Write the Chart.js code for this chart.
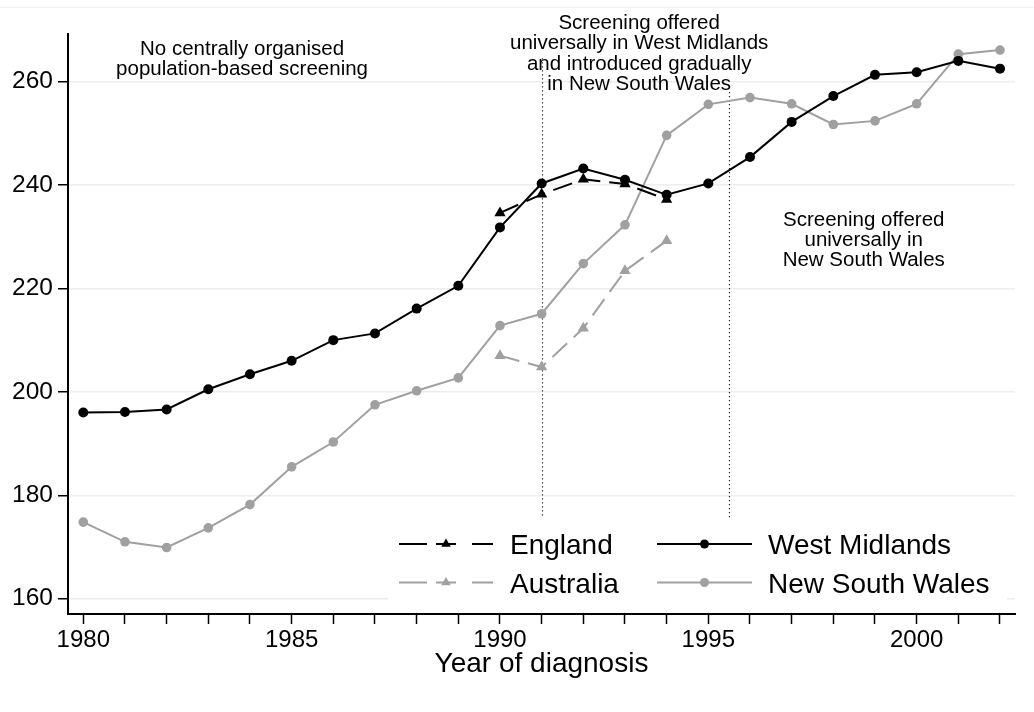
<!DOCTYPE html>
<html><head><meta charset="utf-8">
<script src="https://cdn.jsdelivr.net/npm/chart.js@4/dist/chart.umd.min.js"></script>
<style>html,body{margin:0;padding:0;background:#fff}#wrap{width:1034px;height:712px}</style>
</head><body><div id="wrap"><canvas id="c" width="1034" height="712"></canvas></div>
<script>
// ---- data ----
const years = [1980,1981,1982,1983,1984,1985,1986,1987,1988,1989,1990,1991,1992,1993,1994,1995,1996,1997,1998,1999,2000,2001,2002];
const westMidlands = [196.0,196.1,196.6,200.5,203.4,206.0,210.0,211.3,216.1,220.5,231.8,240.3,243.2,241.0,238.1,240.3,245.4,252.2,257.2,261.3,261.8,264.0,262.5];
const newSouthWales = [174.8,171.0,169.9,173.7,178.2,185.5,190.3,197.5,200.2,202.7,212.8,215.1,224.8,232.3,249.6,255.6,256.9,255.7,251.7,252.4,255.7,265.3,266.1];
const england = [null,null,null,null,null,null,null,null,null,null,234.6,238.2,241.1,240.2,237.2,null,null,null,null,null,null,null,null];
const australia = [null,null,null,null,null,null,null,null,null,null,207.0,204.8,212.3,223.4,229.2,null,null,null,null,null,null,null,null];
const seriesNames = ['England','Australia','West Midlands','New South Wales'];
const yTicks = [160,180,200,220,240,260];
const xLabelYears = [1980,1985,1990,1995,2000];
const xAxisTitle = 'Year of diagnosis';
const screeningYears = [1991, 1995.5];
const screeningTops = [264.5, 258];
const screeningBottom = 175.5;
const annotation1 = ['No centrally organised','population-based screening'];
const annotation2 = ['Screening offered','universally in West Midlands','and introduced gradually','in New South Wales'];
const annotation3 = ['Screening offered','universally in','New South Wales'];
const annotationAnchors = [[1983.81,266.62],[1993.34,271.6],[1998.73,233.56]];

const FONT = '"Liberation Sans", Arial, Helvetica, sans-serif';
const BLACK = '#000000', GRAY = '#a0a0a0';
const pts = vals => years.map((x,i)=>({x:x, y:vals[i]}));

const datasets = [
  {label:seriesNames[0], data:pts(england), borderColor:BLACK, backgroundColor:BLACK, borderDash:[20,9], pointStyle:'triangle', pointRadius:6.5, borderWidth:2},
  {label:seriesNames[1], data:pts(australia), borderColor:GRAY, backgroundColor:GRAY, borderDash:[20,9], pointStyle:'triangle', pointRadius:6.5, borderWidth:2},
  {label:seriesNames[2], data:pts(westMidlands), borderColor:BLACK, backgroundColor:BLACK, pointStyle:'circle', pointRadius:5, borderWidth:2},
  {label:seriesNames[3], data:pts(newSouthWales), borderColor:GRAY, backgroundColor:GRAY, pointStyle:'circle', pointRadius:4.8, borderWidth:2}
].map(d=>Object.assign({tension:0, pointBorderWidth:0, pointBackgroundColor:d.backgroundColor, spanGaps:false}, d));

const extras = {
  id:'extras',
  beforeDraw(chart){
    const ctx = chart.ctx;
    ctx.save();
    ctx.strokeStyle = '#eef1f4'; ctx.lineWidth = 1;
    ctx.beginPath(); ctx.moveTo(0,7.5); ctx.lineTo(chart.width,7.5); ctx.stroke();
    ctx.restore();
  },
  beforeDatasetsDraw(chart){
    const ctx = chart.ctx, xs = chart.scales.x, ys = chart.scales.y;
    ctx.save();
    ctx.strokeStyle = '#222'; ctx.lineWidth = 1.2; ctx.setLineDash([1.3,2.7]);
    screeningYears.forEach((yr,i)=>{
      const px = Math.round(xs.getPixelForValue(yr))+0.5;
      ctx.beginPath();
      ctx.moveTo(px, ys.getPixelForValue(screeningTops[i]));
      ctx.lineTo(px, ys.getPixelForValue(screeningBottom));
      ctx.stroke();
    });
    ctx.restore();
  },
  afterDatasetsDraw(chart){
    const ctx = chart.ctx, xs = chart.scales.x, ys = chart.scales.y;
    ctx.save();
    // annotations
    const fs = 20.5, lh = 20.3;
    ctx.fillStyle = '#000'; ctx.textAlign = 'center'; ctx.textBaseline = 'alphabetic';
    ctx.font = fs + 'px ' + FONT;
    [annotation1, annotation2, annotation3].forEach((lines, k)=>{
      const cx = xs.getPixelForValue(annotationAnchors[k][0]);
      const cy = ys.getPixelForValue(annotationAnchors[k][1]);
      lines.forEach((t,j)=>ctx.fillText(t, cx, cy + j*lh + 0.36*fs));
    });
    // legend
    ctx.fillStyle = '#fff';
    ctx.fillRect(388, 518, 619, 88);
    const rows = [544, 582.5];
    const cols = [{x0:399, x1:493, tx:510}, {x0:657, x1:752, tx:768}];
    chart.data.datasets.forEach((d, i)=>{
      const col = cols[Math.floor(i/2)], ry = rows[i%2];
      const mx = (col.x0 + col.x1)/2;
      ctx.strokeStyle = d.borderColor; ctx.lineWidth = 2; ctx.setLineDash([]);
      ctx.beginPath();
      if (d.borderDash) {
        ctx.moveTo(col.x0, ry); ctx.lineTo(col.x0+28, ry);
        ctx.moveTo(mx-10, ry); ctx.lineTo(mx+10, ry);
        ctx.moveTo(col.x1-21, ry); ctx.lineTo(col.x1, ry);
      } else {
        ctx.moveTo(col.x0, ry); ctx.lineTo(col.x1, ry);
      }
      ctx.stroke();
      ctx.fillStyle = d.borderColor;
      Chart.helpers.drawPoint(ctx, {pointStyle:d.pointStyle, radius:d.pointStyle==='triangle'?5.5:4.5, rotation:0, borderWidth:0}, mx, ry);
      ctx.fillStyle = '#000';
      ctx.font = '28px ' + FONT; ctx.textAlign = 'left';
      ctx.fillText(d.label, col.tx, ry + 0.36*28);
    });
    ctx.restore();
  }
};

new Chart(document.getElementById('c'), {
  type:'line',
  data:{datasets},
  plugins:[extras],
  options:{
    responsive:false, animation:false, devicePixelRatio:1,
    layout:{padding:{left:0,right:19,top:34,bottom:0}},
    plugins:{legend:{display:false}, tooltip:{enabled:false}, title:{display:false}},
    scales:{
      x:{
        type:'linear', min:1979.633, max:2002.36,
        afterBuildTicks:s=>{ s.ticks = years.map(v=>({value:v})); },
        afterFit:s=>{ s.height = 98; },
        ticks:{autoSkip:false, maxRotation:0, padding:2, color:'#000', font:{family:FONT, size:24},
          callback:v=>xLabelYears.includes(v)?String(v):''},
        grid:{drawOnChartArea:false, drawTicks:true, tickLength:10, tickColor:'#000', tickWidth:1.5},
        border:{display:true, color:'#000', width:2},
        title:{display:true, text:xAxisTitle, color:'#000', font:{family:FONT, size:28}, padding:{top:0,bottom:31}}
      },
      y:{
        type:'linear', min:157.04, max:269.2,
        afterBuildTicks:s=>{ s.ticks = yTicks.map(v=>({value:v})); },
        afterFit:s=>{ s.width = 68; },
        ticks:{padding:5, color:'#000', font:{family:FONT, size:24.5}},
        grid:{color:'#e8eef2', lineWidth:1.5, drawTicks:true, tickLength:10, tickColor:'#000', tickWidth:1.5},
        border:{display:true, color:'#000', width:2}
      }
    }
  }
});
</script></body></html>
